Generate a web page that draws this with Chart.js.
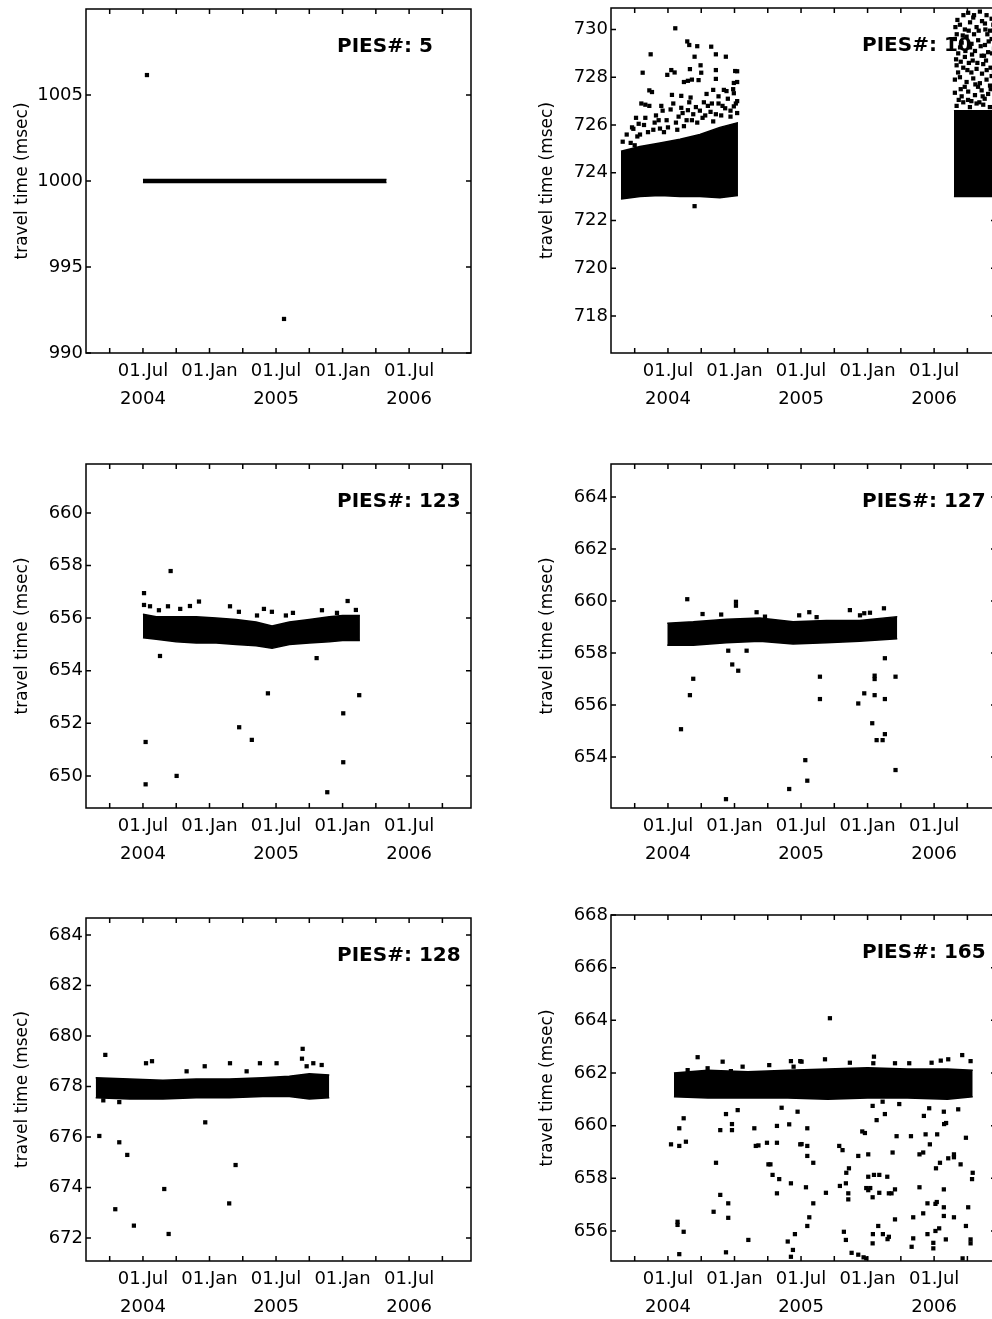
<!DOCTYPE html>
<html>
<head>
<meta charset="utf-8">
<title>PIES travel time</title>
<script src="https://cdn.jsdelivr.net/npm/chart.js@4.4.1/dist/chart.umd.min.js"></script>
<style>
  html, body { margin: 0; padding: 0; background: #fff; overflow: hidden; }
  body { width: 992px; height: 1319px; position: relative; }
  canvas { position: absolute; }
</style>
</head>
<body>
<canvas id="c5"></canvas>
<canvas id="c10"></canvas>
<canvas id="c123"></canvas>
<canvas id="c127"></canvas>
<canvas id="c128"></canvas>
<canvas id="c165"></canvas>
<script>
// time axis, in decimal years (quarterly ticks, labels on Jan / Jul)
const xRange = [2004.072, 2006.965];
const xTicks = [2004.25, 2004.5, 2004.75, 2005, 2005.25, 2005.5, 2005.75, 2006, 2006.25, 2006.5, 2006.75];
const xTickLabels = ['', ['01.Jul', '2004'], '', '01.Jan', '', ['01.Jul', '2005'], '', '01.Jan', '', ['01.Jul', '2006'], ''];

// PIES 5
const p5Range = [990, 1010];
const p5Ticks = [990, 995, 1000, 1005];
const p5BandX = [2004.5, 2006.33];
const p5BandLo = [999.92, 999.92];
const p5BandHi = [1000.08, 1000.08];
const p5Points = [[2004.53, 1006.16], [2005.56, 991.98]];

// PIES 10 (label partly hidden by the data)
const p10Range = [716.45, 730.9];
const p10Ticks = [718, 720, 722, 724, 726, 728, 730];
const p10BandX = [2004.147, 2004.29, 2004.44, 2004.59, 2004.74, 2004.89, 2005.026];
const p10BandLo = [722.9, 723.0, 723.05, 723.0, 723.0, 722.95, 723.05];
const p10BandHi = [724.9, 725.1, 725.25, 725.4, 725.6, 725.9, 726.1];
const p10Band2X = [2006.649, 2006.97];
const p10Band2Lo = [723.0, 723.0];
const p10Band2Hi = [726.6, 726.6];
const p10Points = [
  [2004.555, 730.05], [2004.645, 729.5], [2004.66, 729.35], [2004.72, 729.3], [2004.825, 729.28],
  [2004.37, 728.96], [2004.70, 728.86], [2004.86, 728.96], [2004.935, 728.86], [2004.745, 728.5],
  [2004.31, 728.19], [2004.525, 728.3], [2004.55, 728.2], [2004.495, 728.1], [2004.665, 728.34],
  [2004.75, 728.19], [2004.86, 728.3], [2005.005, 728.26], [2004.65, 727.85], [2004.68, 727.9],
  [2004.73, 727.88], [2004.62, 727.8], [2004.86, 727.93], [2004.995, 727.76], [2004.36, 727.45],
  [2004.38, 727.38], [2004.53, 727.26], [2004.60, 727.22], [2004.67, 727.15], [2004.84, 727.47],
  [2004.92, 727.47], [2004.94, 727.42], [2004.995, 727.33], [2004.30, 726.9], [2004.33, 726.85],
  [2004.36, 726.8], [2004.46, 726.6], [2004.52, 726.65], [2004.60, 726.72], [2004.65, 726.62],
  [2004.71, 726.75], [2004.77, 726.95], [2004.80, 726.8], [2004.82, 726.55], [2004.93, 726.7],
  [2004.995, 726.78], [2004.24, 725.84], [2004.28, 726.05], [2004.27, 725.52], [2004.33, 726.3],
  [2004.41, 726.4], [2004.43, 726.2], [2004.22, 725.25], [2004.25, 725.15], [2004.70, 722.6],
  [2004.50, 725.9], [2004.56, 726.1], [2004.62, 725.95], [2004.68, 726.2], [2004.76, 726.3],
  [2004.84, 726.15], [2004.90, 726.4], [2004.97, 726.35], [2005.02, 726.5], [2004.47, 725.7],
  [2004.39, 725.8], [2004.58, 726.35], [2004.88, 726.9], [2005.02, 727.0], [2005.02, 727.8],
  [2005.02, 728.25],
  [2004.16, 725.3], [2004.19, 725.6], [2004.23, 725.9], [2004.26, 726.3], [2004.29, 725.6],
  [2004.32, 726.0], [2004.35, 725.7], [2004.40, 726.1], [2004.44, 725.85], [2004.45, 726.8],
  [2004.49, 726.2], [2004.54, 726.9], [2004.57, 725.8], [2004.61, 726.5], [2004.64, 726.2],
  [2004.66, 726.95], [2004.69, 726.45], [2004.72, 726.1], [2004.74, 726.6], [2004.78, 726.4],
  [2004.79, 727.3], [2004.83, 726.9], [2004.86, 726.45], [2004.88, 727.2], [2004.91, 726.8],
  [2004.95, 727.1], [2004.97, 726.6], [2004.99, 727.5], [2005.01, 726.9],
  [2006.756, 730.7], [2006.794, 730.5], [2006.844, 730.75], [2006.894, 730.6], [2006.932, 730.45],
  [2006.694, 730.2], [2006.731, 730.0], [2006.819, 730.1], [2006.882, 730.25], [2006.919, 729.95],
  [2006.656, 729.6], [2006.707, 729.45], [2006.744, 729.7], [2006.781, 729.4], [2006.831, 729.55],
  [2006.882, 729.35], [2006.932, 729.6], [2006.681, 729.0], [2006.731, 728.85], [2006.807, 729.1],
  [2006.857, 728.9], [2006.906, 729.05], [2006.669, 728.5], [2006.719, 728.4], [2006.761, 728.6],
  [2006.819, 728.35], [2006.869, 728.55], [2006.924, 728.4], [2006.656, 727.9], [2006.694, 728.0],
  [2006.744, 727.8], [2006.794, 727.95], [2006.844, 727.75], [2006.894, 727.9], [2006.932, 728.05],
  [2006.656, 727.35], [2006.707, 727.2], [2006.756, 727.4], [2006.807, 727.25], [2006.857, 727.45],
  [2006.906, 727.3], [2006.669, 726.8], [2006.719, 726.95], [2006.769, 726.75], [2006.819, 726.9],
  [2006.869, 726.85], [2006.919, 726.75], [2006.675, 730.4], [2006.77, 730.3], [2006.86, 730.35],
  [2006.715, 729.75], [2006.80, 729.8], [2006.90, 729.8], [2006.695, 729.25], [2006.77, 729.25],
  [2006.95, 729.2], [2006.70, 728.65], [2006.79, 728.7], [2006.89, 728.7], [2006.68, 728.2],
  [2006.78, 728.2], [2006.86, 728.15], [2006.95, 728.25], [2006.73, 727.6], [2006.83, 727.6],
  [2006.92, 727.65], [2006.685, 727.05], [2006.78, 727.0], [2006.88, 727.1],
  [2006.66, 730.1], [2006.67, 729.8], [2006.72, 730.6], [2006.735, 729.1], [2006.75, 728.3],
  [2006.76, 729.95], [2006.785, 728.95], [2006.80, 730.6], [2006.81, 727.7], [2006.825, 728.6],
  [2006.835, 729.95], [2006.85, 729.3], [2006.865, 727.2], [2006.875, 728.9], [2006.885, 730.0],
  [2006.895, 728.3], [2006.91, 729.5], [2006.925, 727.5], [2006.935, 729.0], [2006.945, 730.2],
  [2006.955, 727.9], [2006.96, 726.95], [2006.70, 727.5], [2006.665, 728.75], [2006.755, 727.05],
  [2006.84, 726.95]
];

// PIES 123
const p123Range = [648.78, 661.86];
const p123Ticks = [650, 652, 654, 656, 658, 660];
const p123BandX = [2004.50, 2004.60, 2004.75, 2004.90, 2005.05, 2005.20, 2005.35, 2005.47, 2005.60, 2005.75, 2005.90, 2006.00, 2006.13];
const p123BandLo = [655.25, 655.2, 655.1, 655.05, 655.05, 655.0, 654.95, 654.85, 655.0, 655.05, 655.1, 655.15, 655.15];
const p123BandHi = [656.15, 656.05, 656.05, 656.05, 656.0, 655.95, 655.85, 655.7, 655.85, 655.95, 656.05, 656.1, 656.1];
const p123Points = [
  [2004.508, 656.95], [2004.708, 657.79], [2004.628, 654.56], [2004.52, 651.29], [2004.52, 649.68],
  [2004.753, 650.0], [2005.223, 651.85], [2005.318, 651.37], [2005.439, 653.14], [2005.805, 654.48],
  [2005.885, 649.38], [2006.005, 652.38], [2006.005, 650.52], [2006.125, 653.07], [2006.038, 656.65],
  [2006.100, 656.31], [2004.508, 656.5], [2004.553, 656.45], [2004.688, 656.45], [2004.853, 656.46],
  [2004.921, 656.63], [2005.154, 656.45], [2005.221, 656.24], [2005.357, 656.1], [2005.409, 656.35],
  [2005.469, 656.24], [2005.574, 656.1], [2005.627, 656.2], [2005.845, 656.3], [2005.958, 656.2],
  [2004.62, 656.3], [2004.78, 656.35]
];

// PIES 127
const p127Range = [652.04, 665.27];
const p127Ticks = [654, 656, 658, 660, 662, 664];
const p127BandX = [2004.495, 2004.69, 2004.94, 2005.19, 2005.44, 2005.69, 2005.94, 2006.223];
const p127BandLo = [658.3, 658.3, 658.4, 658.45, 658.35, 658.4, 658.45, 658.55];
const p127BandHi = [659.15, 659.2, 659.3, 659.35, 659.2, 659.25, 659.25, 659.4];
const p127Points = [
  [2004.645, 660.07], [2004.598, 655.07], [2004.665, 656.38], [2004.69, 657.01], [2004.936, 652.38],
  [2004.953, 658.09], [2004.983, 657.56], [2005.011, 659.97], [2005.011, 659.82], [2005.028, 657.32],
  [2005.091, 658.09], [2005.166, 659.57], [2005.411, 652.77], [2005.532, 653.88], [2005.547, 653.09],
  [2005.642, 657.09], [2005.642, 656.23], [2005.562, 659.57], [2005.867, 659.65], [2005.93, 656.06],
  [2005.975, 656.45], [2006.018, 659.55], [2006.035, 655.3], [2006.053, 657.13], [2006.053, 657.0],
  [2006.053, 656.38], [2006.068, 654.65], [2006.113, 654.65], [2006.13, 654.88], [2006.13, 657.8],
  [2006.13, 656.23], [2006.123, 659.72], [2006.21, 657.09], [2006.21, 653.5], [2005.975, 659.53],
  [2005.229, 659.4], [2005.486, 659.45], [2005.617, 659.38], [2005.943, 659.45], [2004.90, 659.48],
  [2004.76, 659.5]
];

// PIES 128
const p128Range = [671.09, 684.67];
const p128Ticks = [672, 674, 676, 678, 680, 682, 684];
const p128BandX = [2004.145, 2004.4, 2004.65, 2004.9, 2005.15, 2005.4, 2005.6, 2005.75, 2005.90];
const p128BandLo = [677.55, 677.5, 677.5, 677.55, 677.55, 677.6, 677.6, 677.5, 677.55];
const p128BandHi = [678.35, 678.3, 678.25, 678.3, 678.3, 678.35, 678.4, 678.5, 678.45];
const p128Points = [
  [2004.172, 676.04], [2004.217, 679.25], [2004.202, 677.45], [2004.292, 673.14], [2004.322, 675.79],
  [2004.382, 675.29], [2004.322, 677.38], [2004.432, 672.49], [2004.66, 673.94], [2004.693, 672.16],
  [2004.968, 676.58], [2005.148, 673.37], [2005.196, 674.89], [2005.70, 679.49], [2004.523, 678.92],
  [2004.568, 679.0], [2005.154, 678.92], [2005.379, 678.92], [2005.504, 678.92], [2004.828, 678.6],
  [2004.964, 678.8], [2005.279, 678.6], [2005.73, 678.8], [2005.78, 678.92], [2005.843, 678.85],
  [2005.695, 679.1]
];

// PIES 165
const p165Range = [654.86, 668];
const p165Ticks = [656, 658, 660, 662, 664, 666, 668];
const p165BandX = [2004.545, 2004.8, 2005.1, 2005.4, 2005.7, 2006.0, 2006.3, 2006.6, 2006.79];
const p165BandLo = [661.1, 661.05, 661.05, 661.05, 661.0, 661.05, 661.05, 661.0, 661.1];
const p165BandHi = [662.0, 662.1, 662.05, 662.1, 662.15, 662.2, 662.15, 662.15, 662.1];
const p165Points = [
  [2004.723, 662.6], [2004.911, 662.43], [2005.261, 662.3], [2005.424, 662.45], [2004.618, 660.28],
  [2004.585, 659.9], [2004.523, 659.29], [2004.585, 659.23], [2004.635, 659.39], [2004.936, 660.44],
  [2005.024, 660.59], [2004.893, 659.83], [2004.981, 660.06], [2004.981, 659.83], [2005.149, 659.9],
  [2005.16, 659.23], [2005.18, 659.25], [2005.244, 659.35], [2005.319, 659.35], [2005.319, 659.99],
  [2005.354, 660.68], [2005.411, 660.05], [2005.474, 660.53], [2005.494, 659.29], [2004.861, 658.59],
  [2005.255, 658.53], [2005.27, 658.53], [2005.286, 658.13], [2005.336, 657.97], [2005.424, 657.81],
  [2004.893, 657.37], [2005.319, 657.43], [2004.953, 657.05], [2004.843, 656.73], [2004.953, 656.5],
  [2004.572, 656.35], [2004.572, 656.23], [2004.618, 655.97], [2005.104, 655.66], [2005.4, 655.6],
  [2005.454, 655.88], [2005.439, 655.28], [2004.585, 655.12], [2004.936, 655.19], [2005.424, 655.02],
  [2004.648, 662.11], [2004.798, 662.18], [2004.973, 662.07], [2005.061, 662.24], [2005.444, 662.24],
  [2005.494, 662.45], [2005.717, 664.08], [2005.504, 662.43], [2005.68, 662.52], [2005.867, 662.39],
  [2006.048, 662.62], [2006.043, 662.37], [2006.206, 662.37], [2006.313, 662.37], [2006.481, 662.39],
  [2006.55, 662.47], [2006.606, 662.52], [2006.711, 662.68], [2006.774, 662.45], [2006.038, 660.75],
  [2006.113, 660.91], [2006.13, 660.44], [2006.238, 660.82], [2006.068, 660.21], [2006.463, 660.66],
  [2006.423, 660.37], [2006.573, 660.53], [2006.681, 660.62], [2006.575, 660.06], [2006.59, 660.1],
  [2005.547, 659.9], [2005.96, 659.78], [2005.98, 659.72], [2006.218, 659.6], [2006.326, 659.6],
  [2006.436, 659.67], [2006.523, 659.67], [2006.739, 659.54], [2005.504, 659.3], [2005.547, 659.23],
  [2005.787, 659.23], [2005.812, 659.07], [2006.468, 659.29], [2005.547, 658.85], [2005.592, 658.59],
  [2005.93, 658.85], [2006.005, 658.91], [2006.188, 658.98], [2006.39, 658.91], [2006.418, 658.98],
  [2006.606, 658.76], [2006.649, 658.91], [2006.649, 658.8], [2006.544, 658.59], [2006.514, 658.38],
  [2006.699, 658.53], [2006.79, 658.21], [2006.785, 657.97], [2005.86, 658.38], [2005.84, 658.21],
  [2006.005, 658.06], [2006.048, 658.13], [2006.088, 658.13], [2006.148, 658.06], [2005.837, 657.81],
  [2005.99, 657.63], [2006.02, 657.63], [2006.005, 657.55], [2006.038, 657.28], [2006.088, 657.45],
  [2006.16, 657.43], [2006.18, 657.43], [2006.206, 657.58], [2005.537, 657.66], [2005.687, 657.45],
  [2005.792, 657.71], [2005.855, 657.43], [2005.855, 657.2], [2006.39, 657.66], [2006.573, 657.58],
  [2005.592, 657.05], [2006.45, 657.05], [2006.51, 657.03], [2006.52, 657.1], [2006.573, 656.9],
  [2006.756, 656.9], [2006.418, 656.67], [2006.573, 656.57], [2006.649, 656.52], [2006.343, 656.52],
  [2006.206, 656.44], [2005.562, 656.52], [2005.547, 656.19], [2006.08, 656.19], [2006.538, 656.1],
  [2006.739, 656.19], [2005.822, 655.97], [2006.04, 655.88], [2006.115, 655.88], [2006.16, 655.78],
  [2006.15, 655.69], [2006.45, 655.88], [2006.51, 656.0], [2005.837, 655.66], [2006.343, 655.72],
  [2006.588, 655.68], [2006.774, 655.68], [2006.774, 655.53], [2006.038, 655.53], [2006.331, 655.4],
  [2006.494, 655.55], [2006.494, 655.34], [2005.88, 655.17], [2005.93, 655.1], [2005.97, 655.0],
  [2005.99, 654.96], [2006.714, 654.96]
];

const panels = [
  { id: 'c5', name: 'PIES#: 5', col: 0, top: 9, bottom: 353, range: p5Range, yTicks: p5Ticks,
    bands: [[p5BandX, p5BandLo, p5BandHi]], points: p5Points },
  { id: 'c10', name: 'PIES#: 10', col: 1, top: 8, bottom: 353, range: p10Range, yTicks: p10Ticks,
    bands: [[p10BandX, p10BandLo, p10BandHi], [p10Band2X, p10Band2Lo, p10Band2Hi]], points: p10Points },
  { id: 'c123', name: 'PIES#: 123', col: 0, top: 464, bottom: 808, range: p123Range, yTicks: p123Ticks,
    bands: [[p123BandX, p123BandLo, p123BandHi]], points: p123Points },
  { id: 'c127', name: 'PIES#: 127', col: 1, top: 464, bottom: 808, range: p127Range, yTicks: p127Ticks,
    bands: [[p127BandX, p127BandLo, p127BandHi]], points: p127Points },
  { id: 'c128', name: 'PIES#: 128', col: 0, top: 918, bottom: 1261, range: p128Range, yTicks: p128Ticks,
    bands: [[p128BandX, p128BandLo, p128BandHi]], points: p128Points },
  { id: 'c165', name: 'PIES#: 165', col: 1, top: 915, bottom: 1261, range: p165Range, yTicks: p165Ticks,
    bands: [[p165BandX, p165BandLo, p165BandHi]], points: p165Points }
];

Chart.defaults.font.family = '"DejaVu Sans", sans-serif';
Chart.defaults.color = '#000';

// box around the plot, inward ticks on all four sides, and the PIES label
const boxPlugin = {
  id: 'box',
  beforeDatasetsDraw(chart, args, opts) {
    const { ctx, chartArea: a } = chart;
    ctx.save();
    ctx.font = 'bold 20px "DejaVu Sans"';
    ctx.fillStyle = '#000';
    ctx.textBaseline = 'alphabetic';
    ctx.fillText(opts.name, a.left + 251, a.top + 43);
    ctx.restore();
  },
  afterDraw(chart) {
    const { ctx, chartArea: a, scales } = chart;
    ctx.save();
    ctx.strokeStyle = '#000';
    ctx.lineWidth = 1.5;
    ctx.strokeRect(a.left, a.top, a.right - a.left, a.bottom - a.top);
    ctx.beginPath();
    scales.x.ticks.forEach(t => {
      const px = scales.x.getPixelForValue(t.value);
      ctx.moveTo(px, a.bottom); ctx.lineTo(px, a.bottom - 5);
      ctx.moveTo(px, a.top); ctx.lineTo(px, a.top + 5);
    });
    scales.y.ticks.forEach(t => {
      const py = scales.y.getPixelForValue(t.value);
      ctx.moveTo(a.left, py); ctx.lineTo(a.left + 5, py);
      ctx.moveTo(a.right, py); ctx.lineTo(a.right - 5, py);
    });
    ctx.stroke();
    ctx.restore();
  }
};

function makeChart(p) {
  const cv = document.getElementById(p.id);
  const left = p.col ? 525 : 0;
  const w = p.col ? 480 : 490;
  const h = p.bottom - p.top + 78;
  cv.width = w;
  cv.height = h;
  cv.style.left = left + 'px';
  cv.style.top = (p.top - 20) + 'px';

  const datasets = [];
  p.bands.forEach(([bx, lo, hi]) => {
    datasets.push({ type: 'line', data: bx.map((x, i) => ({ x, y: lo[i] })),
      borderColor: '#000', borderWidth: 1.5, pointRadius: 0, fill: false });
    datasets.push({ type: 'line', data: bx.map((x, i) => ({ x, y: hi[i] })),
      borderColor: '#000', borderWidth: 1.5, pointRadius: 0, fill: '-1', backgroundColor: '#000' });
  });
  datasets.push({ type: 'scatter', data: p.points.map(([x, y]) => ({ x, y })),
    pointStyle: 'rect', pointRadius: 3, backgroundColor: '#000', borderWidth: 0 });

  new Chart(cv, {
    type: 'scatter',
    data: { datasets },
    plugins: [boxPlugin],
    options: {
      responsive: false,
      animation: false,
      events: [],
      layout: { padding: { left: 0, top: 20, right: w - 471, bottom: 3 } },
      plugins: { legend: { display: false }, tooltip: { enabled: false }, box: { name: p.name } },
      scales: {
        x: {
          type: 'linear', min: xRange[0], max: xRange[1],
          grid: { display: false, drawTicks: false }, border: { display: false },
          afterBuildTicks: s => { s.ticks = xTicks.map(v => ({ value: v })); },
          afterFit: s => { s.height = 55; },
          ticks: { autoSkip: false, maxRotation: 0, minRotation: 0, padding: 4,
            font: { size: 18, lineHeight: 1.55 },
            callback: v => xTickLabels[xTicks.indexOf(v)] }
        },
        y: {
          type: 'linear', min: p.range[0], max: p.range[1],
          grid: { display: false, drawTicks: false }, border: { display: false },
          afterBuildTicks: s => { s.ticks = p.yTicks.map(v => ({ value: v })); },
          afterFit: s => { s.width = 86; },
          ticks: { padding: 3, font: { size: 18 }, callback: v => String(v) },
          title: { display: true, text: 'travel time (msec)', font: { size: 17 }, padding: { top: 12, bottom: 0 } }
        }
      }
    }
  });
}

panels.forEach(makeChart);
</script>
</body>
</html>
